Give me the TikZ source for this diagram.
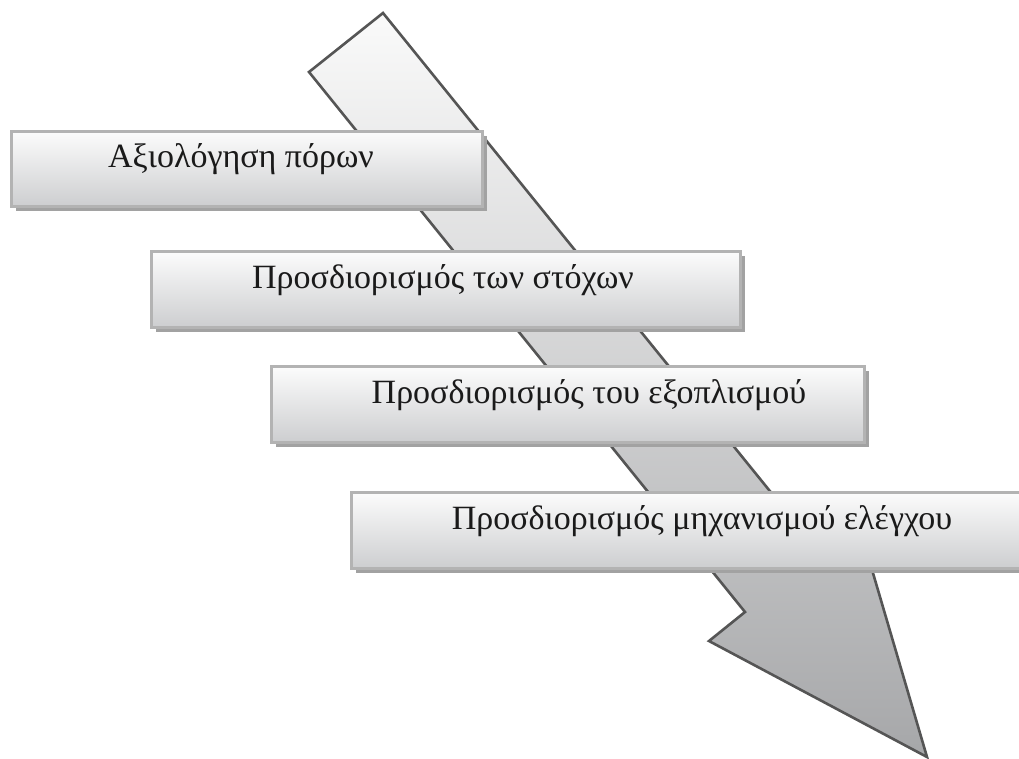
\documentclass[tikz,border=0pt]{standalone}
\usepackage{fontspec}
\setmainfont{Liberation Serif}
\usetikzlibrary{shadows}

\definecolor{arrowedge}{HTML}{555555}
\definecolor{arrowtop}{HTML}{FAFAFA}
\definecolor{arrowbot}{HTML}{A6A7A9}
\definecolor{arrowshade}{HTML}{C4C4C4}
\definecolor{boxedge}{HTML}{B3B3B3}
\definecolor{boxtop}{HTML}{FCFCFC}
\definecolor{boxbot}{HTML}{CDCED0}
\definecolor{shadowgray}{HTML}{A2A2A2}
\definecolor{labeltext}{HTML}{1A1A1A}

\tikzset{
  stagebox/.style={draw=boxedge, line width=3pt, top color=boxtop, bottom color=boxbot,
    anchor=north west, inner sep=0pt, minimum height=#1,
    drop shadow={shadow xshift=5pt, shadow yshift=-5pt, fill=shadowgray, opacity=1}},
  stagebox/.default=76pt,
  stagetext/.style={font=\fontsize{34}{40}\selectfont, text=labeltext, anchor=base, inner sep=0pt},
}

\begin{document}
\begin{tikzpicture}[x=1pt, y=-1pt]
  \useasboundingbox (0,0) rectangle (1019,758);
  \clip (0,0) rectangle (1019,758);

  % outline points of the downward process arrow
  \coordinate (top)    at (383,13);
  \coordinate (left)   at (309,72);
  \coordinate (notchL) at (745,612);
  \coordinate (barbL)  at (709,641);
  \coordinate (tip)    at (927,757);
  \coordinate (barbR)  at (858,522);
  \coordinate (notchR) at (820,553);

  % soft shadow under the arrow
  \fill[arrowshade, xshift=2pt, yshift=-3pt]
    (top) -- (left) -- (notchL) -- (barbL) -- (tip) -- (barbR) -- (notchR) -- cycle;
  % the arrow itself
  \draw[arrowedge, line width=2.6pt, line join=miter, top color=arrowtop, bottom color=arrowbot]
    (top) -- (left) -- (notchL) -- (barbL) -- (tip) -- (barbR) -- (notchR) -- cycle;

  % stage boxes
  \node[stagebox=75pt, minimum width=471pt] (box1) at (9.5,129.5) {};
  \node[stagebox, minimum width=589pt] (box2) at (149.5,249.5) {};
  \node[stagebox, minimum width=593pt] (box3) at (269.5,364.5) {};
  \node[stagebox, minimum width=705pt] (box4) at (349.5,490.5) {};

  % stage labels
  \node[stagetext] (lab1) at (241,167) {Αξιολόγηση πόρων};
  \node[stagetext] (lab2) at (443,288) {Προσδιορισμός των στόχων};
  \node[stagetext] (lab3) at (589,403) {Προσδιορισμός του εξοπλισμού};
  \node[stagetext] (lab4) at (702,529) {Προσδιορισμός μηχανισμού ελέγχου};
\end{tikzpicture}
\end{document}
